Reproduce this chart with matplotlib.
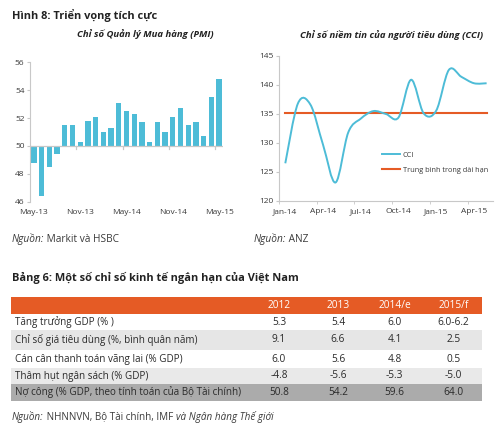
import matplotlib
matplotlib.use("Agg")
import matplotlib.pyplot as plt
from matplotlib.path import Path
from matplotlib.patches import PathPatch, Rectangle
import numpy as np

plt.rcParams['font.family'] = ['Open Sans', 'DejaVu Sans']

# -------------------------------
# data
# -------------------------------
pmi_months = ["May-13", "Jun-13", "Jul-13", "Aug-13", "Sep-13", "Oct-13", "Nov-13", "Dec-13",
              "Jan-14", "Feb-14", "Mar-14", "Apr-14", "May-14", "Jun-14", "Jul-14", "Aug-14",
              "Sep-14", "Oct-14", "Nov-14", "Dec-14", "Jan-15", "Feb-15", "Mar-15", "Apr-15", "May-15"]
pmi_values = [48.8, 46.4, 48.5, 49.4, 51.5, 51.5, 50.3, 51.8, 52.1, 51.0, 51.3, 53.1, 52.5,
              52.3, 51.7, 50.3, 51.7, 51.0, 52.1, 52.7, 51.5, 51.7, 50.7, 53.5, 54.8]
pmi_ticklabels = ["May-13", "Nov-13", "May-14", "Nov-14", "May-15"]

cci_months = ["Jan-14", "Feb-14", "Mar-14", "Apr-14", "May-14", "Jun-14", "Jul-14", "Aug-14",
              "Sep-14", "Oct-14", "Nov-14", "Dec-14", "Jan-15", "Feb-15", "Mar-15", "Apr-15", "May-15"]
cci_values = [126.5, 136.8, 136.6, 129.7, 123.2, 131.8, 134.2, 135.5, 135.0, 134.4,
              140.9, 135.1, 135.6, 142.6, 141.4, 140.3, 140.3]
cci_avg = 135.2
cci_ticklabels = ["Jan-14", "Apr-14", "Jul-14", "Oct-14", "Jan-15", "Apr-15"]

table_cols = ["2012", "2013", "2014/e", "2015/f"]
table_rows = ["Tăng trưởng GDP (% )",
              "Chỉ số giá tiêu dùng (%, bình quân năm)",
              "Cán cân thanh toán vãng lai (% GDP)",
              "Thâm hụt ngân sách (% GDP)",
              "Nợ công (% GDP, theo tính toán của Bộ Tài chính)"]
gdp_growth = ["5.3", "5.4", "6.0", "6.0-6.2"]
cpi = ["9.1", "6.6", "4.1", "2.5"]
current_account = ["6.0", "5.6", "4.8", "0.5"]
budget_deficit = ["-4.8", "-5.6", "-5.3", "-5.0"]
public_debt = ["50.8", "54.2", "59.6", "64.0"]
table_values = [gdp_growth, cpi, current_account, budget_deficit, public_debt]

BLUE = "#4DBCD7"
ORANGE = "#E55B25"
TXT = "#3a3a3a"
AXC = "#c8c8c8"

fig = plt.figure(figsize=(5, 4.33), dpi=100)

# overlay in pixel coordinates for titles / table
ov = fig.add_axes([0, 0, 1, 1], zorder=0)
ov.set_xlim(0, 500)
ov.set_ylim(433, 0)
ov.axis("off")


def src_line(x, y, parts, size=7.3):
    prev = None
    for txt, style in parts:
        if prev is None:
            prev = ov.text(x, y, txt, fontsize=size, style=style, color=TXT, va="center", ha="left")
        else:
            prev = ov.annotate(txt, xy=(1, 0.5), xycoords=prev, va="center", ha="left",
                               fontsize=size, style=style, color=TXT)


ov.text(12, 15, "Hình 8: Triển vọng tích cực", fontsize=7.9, fontweight="bold", color="#222222", va="center")
ov.text(145, 34, "Chỉ số Quản lý Mua hàng (PMI)", fontsize=6.8, fontweight="bold", style="italic",
        color="#222222", ha="center", va="center")
ov.text(392, 35, "Chỉ số niềm tin của người tiêu dùng (CCI)", fontsize=6.8, fontweight="bold", style="italic",
        color="#222222", ha="center", va="center")
src_line(12, 239, [("Nguồn:", "italic"), (" Markit và HSBC", "normal")])
src_line(254, 239, [("Nguồn:", "italic"), (" ANZ", "normal")])

# -------------------------------
# PMI bar chart
# -------------------------------
ax1 = fig.add_axes([0.0602, 0.5335, 0.3856, 0.3233])
x1 = np.arange(len(pmi_values))
base = 50
ax1.bar(x1, np.array(pmi_values) - base, bottom=base, width=0.68, color=BLUE, zorder=2)
ax1.set_xlim(-0.5, len(pmi_values) - 0.5)
ax1.set_ylim(46, 56)
ax1.set_yticks(range(46, 57, 2))
ax1.axhline(base, color=AXC, lw=0.9, zorder=3)
tick_idx = [pmi_months.index(m) for m in pmi_ticklabels]
for i in tick_idx:
    ax1.plot([i - 0.5, i - 0.5], [base, base - 0.18], color=AXC, lw=0.9, zorder=3)
ax1.set_xticks(tick_idx)
ax1.set_xticklabels(pmi_ticklabels)
ax1.tick_params(axis="x", length=0, pad=5, labelsize=6, labelcolor=TXT)
ax1.tick_params(axis="y", length=2, color=AXC, pad=2, labelsize=6, labelcolor=TXT)
for s in ["top", "right", "bottom"]:
    ax1.spines[s].set_visible(False)
ax1.spines["left"].set_color(AXC)
ax1.patch.set_alpha(0)

# -------------------------------
# CCI line chart
# -------------------------------
ax2 = fig.add_axes([0.558, 0.5358, 0.4278, 0.3349])
x2 = np.arange(len(cci_values))
y2 = np.array(cci_values)

# smoothed line (bezier through the monthly points)
pts = np.column_stack([x2, y2])
ext = np.vstack([pts[0], pts, pts[-1]])
verts = [tuple(pts[0])]
codes = [Path.MOVETO]
for i in range(len(pts) - 1):
    p0, p1, p2, p3 = ext[i], ext[i + 1], ext[i + 2], ext[i + 3]
    c1 = p1 + (p2 - p0) / 6.0
    c2 = p2 - (p3 - p1) / 6.0
    verts += [tuple(c1), tuple(c2), tuple(p2)]
    codes += [Path.CURVE4] * 3
ax2.add_patch(PathPatch(Path(verts, codes), fill=False, edgecolor=BLUE, lw=1.4, zorder=3))
ax2.plot(x2, [cci_avg] * len(x2), color=ORANGE, lw=1.5, zorder=2)
ax2.plot([], [], color=BLUE, lw=1.4, label="CCI")
ax2.plot([], [], color=ORANGE, lw=1.5, label="Trung bình trong dài hạn")

ax2.set_xlim(-0.5, len(cci_values) - 0.5)
ax2.set_ylim(120, 145)
ax2.set_yticks(range(120, 146, 5))
cidx = [cci_months.index(m) for m in cci_ticklabels]
ax2.set_xticks(cidx)
ax2.set_xticklabels(cci_ticklabels)
ax2.set_xticks([i - 0.5 for i in cidx], minor=True)
ax2.tick_params(axis="x", which="major", length=0, pad=5, labelsize=6, labelcolor=TXT)
ax2.tick_params(axis="x", which="minor", length=2, color=AXC)
ax2.tick_params(axis="y", length=2, color=AXC, pad=2, labelsize=6, labelcolor=TXT)
for s in ["top", "right"]:
    ax2.spines[s].set_visible(False)
ax2.spines["left"].set_color(AXC)
ax2.spines["bottom"].set_color(AXC)
ax2.patch.set_alpha(0)
ax2.legend(loc="center left", bbox_to_anchor=(382 / 500, 1 - 162.5 / 433), bbox_transform=fig.transFigure,
           frameon=False, fontsize=5.3, borderpad=0, borderaxespad=0,
           handlelength=2.4, handletextpad=0.45, labelspacing=1.05, labelcolor=TXT)

# -------------------------------
# table
# -------------------------------
ov.text(12, 278, "Bảng 6: Một số chỉ số kinh tế ngắn hạn của Việt Nam", fontsize=7.9,
        fontweight="bold", color="#222222", va="center")
tx0, tx1 = 11, 481.7
col_x = [279, 338, 394.5, 453.5]
ov.add_patch(Rectangle((tx0, 296.7), tx1 - tx0, 17.3, color=ORANGE, lw=0))
for cx, c in zip(col_x, table_cols):
    ov.text(cx, 305.5, c, fontsize=7.3, color="white", ha="center", va="center")

row_bands = [(314, 329.5, "white"), (329.5, 349.5, "#e6e6e6"), (350.5, 368, "white"),
             (368, 384, "#e9e9e9"), (384, 400.5, "#ababab")]
row_y = [322.3, 340, 359.3, 376, 392.3]
for (y0, y1, bg), ty, label, vals in zip(row_bands, row_y, table_rows, table_values):
    ov.add_patch(Rectangle((tx0, y0), tx1 - tx0, y1 - y0, color=bg, lw=0))
    ov.text(15, ty, label, fontsize=7.1, color="#2a2a2a", ha="left", va="center")
    for cx, v in zip(col_x, vals):
        ov.text(cx, ty, v, fontsize=7.3, color="#2a2a2a", ha="center", va="center")

src_line(12, 417, [("Nguồn:", "italic"), (" NHNNVN, Bộ Tài chính, IMF ", "normal"),
                   ("và Ngân hàng Thế giới", "italic")], size=7.1)

fig.savefig("out.png", dpi=100)
